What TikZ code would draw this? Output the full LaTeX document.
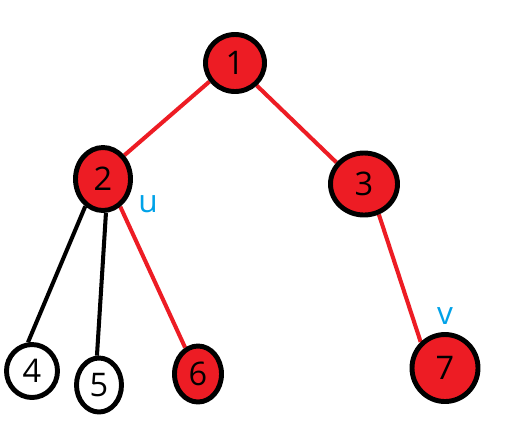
\documentclass[tikz,border=0pt]{standalone}
\usepackage{fontspec}
\setmainfont{Open Sans}
\usetikzlibrary{shapes.geometric,backgrounds}
\definecolor{paintred}{HTML}{ED1C24}
\definecolor{paintblue}{HTML}{00A2E8}

\begin{document}
\begin{tikzpicture}[
  vertex/.style={ellipse, draw=black, line width=2.8pt, inner sep=0pt, font=\fontsize{18.5}{22}\selectfont},
  marked/.style={vertex, fill=paintred},
  plain/.style={vertex, fill=white},
  redge/.style={draw=paintred, line width=2.3pt},
  bedge/.style={draw=black, line width=2.3pt},
  tag/.style={inner sep=0pt, text=paintblue, font=\fontsize{18}{21}\selectfont}
]
\useasboundingbox (0,0) rectangle (10.26,-8.94);
\node[marked, minimum width=1.18cm, minimum height=1.14cm] (n1) at (4.70,-1.26) {1};
\node[marked, minimum width=1.10cm, minimum height=1.26cm] (n2) at (2.06,-3.58) {2};
\node[marked, minimum width=1.34cm, minimum height=1.24cm] (n3) at (7.28,-3.68) {3};
\node[plain, minimum width=1.02cm, minimum height=1.06cm] (n4) at (0.64,-7.42) {4};
\node[plain, minimum width=0.90cm, minimum height=1.08cm] (n5) at (1.98,-7.70) {5};
\node[marked, minimum width=0.94cm, minimum height=1.12cm] (n6) at (3.96,-7.48) {6};
\node[marked, minimum width=1.32cm, minimum height=1.34cm] (n7) at (8.90,-7.36) {7};
\node[tag] (u) at (2.96,-4.08) {u};
\node[tag] (v) at (8.90,-6.32) {v};
\begin{scope}[on background layer]
\draw[redge] (n1.216) -- (n2.48);
\draw[redge] (n1.314) -- (n3.142);
\draw[bedge] (n2.237) -- (n4.98);
\draw[bedge] (n2.275) -- (n5.94);
\draw[redge] (n2.302) -- (n6.116);
\draw[redge] (n3.296) -- (n7.133);
\end{scope}
\end{tikzpicture}
\end{document}
